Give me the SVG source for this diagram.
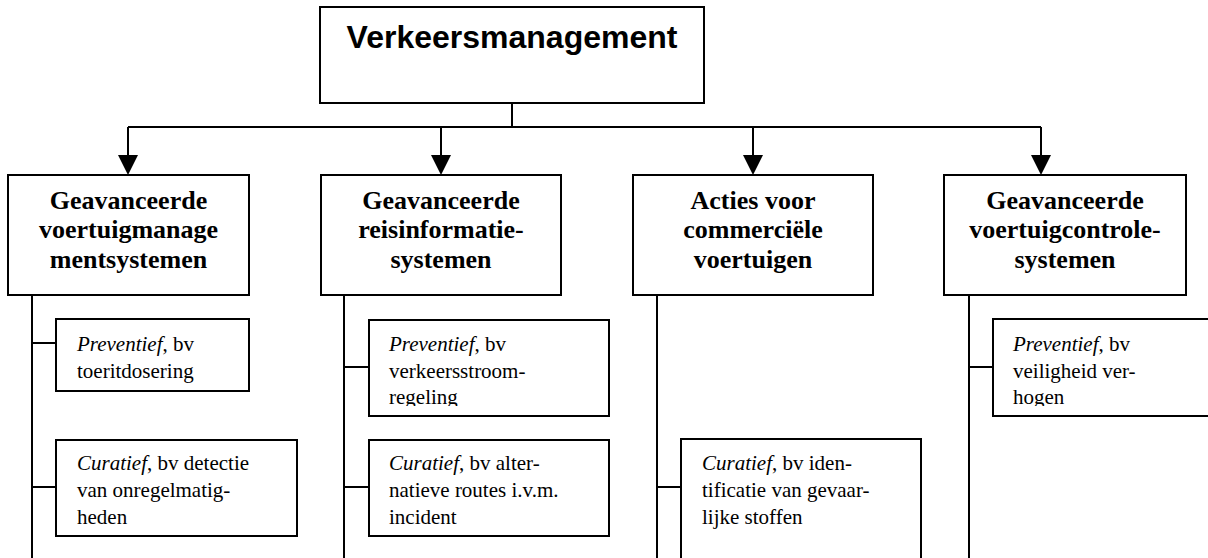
<svg xmlns="http://www.w3.org/2000/svg" width="1208" height="558" viewBox="0 0 1208 558">
<style>
.box{fill:#fff;stroke:#000;stroke-width:2}
.ln{fill:none;stroke:#000;stroke-width:2}
.ah{fill:#000}
.title{font-family:"Liberation Sans",Arial,sans-serif;font-weight:bold;font-size:32px;text-anchor:middle}
.head{font-family:"Liberation Serif","Times New Roman",serif;font-weight:bold;font-size:26px;text-anchor:middle}
.sub{font-family:"Liberation Serif","Times New Roman",serif;font-size:21px}
</style>
<defs>
<clipPath id="clipC"><rect x="369" y="320" width="240" height="86"/></clipPath>
<clipPath id="clipF"><rect x="993" y="320" width="220" height="86"/></clipPath>
</defs>
<g id="connectors">
<path class="ln" d="M512 103V127M128 127H1041M128 127V156M441 127V156M753 127V156M1041 127V156"/>
<polygon class="ah" points="118,155 138,155 128,175"/>
<polygon class="ah" points="431,155 451,155 441,175"/>
<polygon class="ah" points="743,155 763,155 753,175"/>
<polygon class="ah" points="1031,155 1051,155 1041,175"/>
<path class="ln" d="M32 295V558M32 343H56M32 487H56"/>
<path class="ln" d="M344 295V558M344 367H369M344 487H369"/>
<path class="ln" d="M657 295V558M657 487H681"/>
<path class="ln" d="M969 295V558M969 367H993"/>
</g>
<g id="root">
<rect class="box" x="320" y="7" width="384" height="96"/>
<text class="title" x="512" y="48">Verkeersmanagement</text>
</g>
<g id="n1">
<rect class="box" x="8" y="175" width="241" height="120"/>
<text class="head" x="128.5" y="209">Geavanceerde</text>
<text class="head" x="128.5" y="238">voertuigmanage</text>
<text class="head" x="128.5" y="268">mentsystemen</text>
</g>
<g id="n2">
<rect class="box" x="321" y="175" width="240" height="120"/>
<text class="head" x="441" y="209">Geavanceerde</text>
<text class="head" x="441" y="238">reisinformatie-</text>
<text class="head" x="441" y="268">systemen</text>
</g>
<g id="n3">
<rect class="box" x="633" y="175" width="240" height="120"/>
<text class="head" x="753" y="209">Acties voor</text>
<text class="head" x="753" y="238">commerciële</text>
<text class="head" x="753" y="268">voertuigen</text>
</g>
<g id="n4">
<rect class="box" x="944" y="175" width="242" height="120"/>
<text class="head" x="1065" y="209">Geavanceerde</text>
<text class="head" x="1065" y="238">voertuigcontrole-</text>
<text class="head" x="1065" y="268">systemen</text>
</g>
<g id="n1a">
<rect class="box" x="56" y="319" width="193" height="72"/>
<text class="sub" x="77" y="351"><tspan font-style="italic">Preventief</tspan>, bv</text>
<text class="sub" x="77" y="378">toeritdosering</text>
</g>
<g id="n1b">
<rect class="box" x="56" y="440" width="241" height="96"/>
<text class="sub" x="77" y="470"><tspan font-style="italic">Curatief</tspan>, bv detectie</text>
<text class="sub" x="77" y="497">van onregelmatig-</text>
<text class="sub" x="77" y="524">heden</text>
</g>
<g id="n2a">
<rect class="box" x="369" y="320" width="240" height="96"/>
<g clip-path="url(#clipC)">
<text class="sub" x="389" y="351"><tspan font-style="italic">Preventief</tspan>, bv</text>
<text class="sub" x="389" y="378">verkeersstroom-</text>
<text class="sub" x="389" y="404">regeling</text>
</g>
</g>
<g id="n2b">
<rect class="box" x="369" y="440" width="240" height="96"/>
<text class="sub" x="389" y="470"><tspan font-style="italic">Curatief</tspan>, bv alter-</text>
<text class="sub" x="389" y="497">natieve routes i.v.m.</text>
<text class="sub" x="389" y="524">incident</text>
</g>
<g id="n3a">
<rect class="box" x="681" y="439" width="240" height="160"/>
<text class="sub" x="702" y="470"><tspan font-style="italic">Curatief</tspan>, bv iden-</text>
<text class="sub" x="702" y="497">tificatie van gevaar-</text>
<text class="sub" x="702" y="524">lijke stoffen</text>
</g>
<g id="n4a">
<rect class="box" x="993" y="319" width="240" height="97"/>
<g clip-path="url(#clipF)">
<text class="sub" x="1013" y="351"><tspan font-style="italic">Preventief</tspan>, bv</text>
<text class="sub" x="1013" y="378">veiligheid ver-</text>
<text class="sub" x="1013" y="404">hogen</text>
</g>
</g>
</svg>
